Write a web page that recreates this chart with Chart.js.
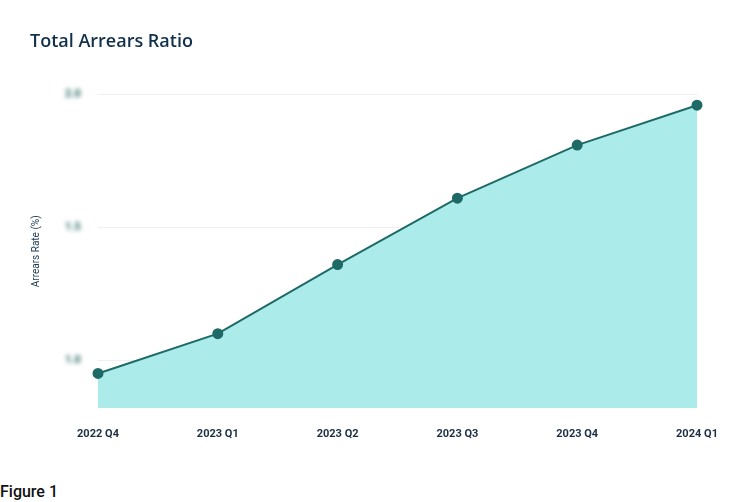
<!DOCTYPE html>
<html>
<head>
<meta charset="utf-8">
<script src="https://cdn.jsdelivr.net/npm/chart.js@4.4.1/dist/chart.umd.min.js"></script>
<style>
    html, body { margin: 0; padding: 0; background: #fff; }
    .wrap { width: 743px; height: 470px; position: relative; }
    .caption { font-family: Roboto, sans-serif; font-size: 16px; font-weight: 500; color: #111; margin: 13px 0 0 0; line-height: 18px; }
</style>
</head>
<body>
<div class="wrap"><canvas id="arrearsChart"></canvas></div>
<div class="caption">Figure 1</div>
<script>
// данные
const quarters = ['2022 Q4', '2023 Q1', '2023 Q2', '2023 Q3', '2023 Q4', '2024 Q1'];
const arrearsRate = [0.95, 1.10, 1.36, 1.61, 1.81, 1.96];
const yTicks = [1.0, 1.5, 2.0];

// подписи оси Y размыты, как на оригинале
const blurredTicks = {
    id: 'blurredTicks',
    afterDraw(chart) {
        const ctx = chart.ctx;
        const y = chart.scales.y;
        ctx.save();
        ctx.filter = 'blur(2px)';
        ctx.fillStyle = '#2a6b67';
        ctx.font = 'bold 11px Roboto';
        ctx.textAlign = 'center';
        ctx.textBaseline = 'middle';
        yTicks.forEach(v => {
            ctx.fillText(v.toFixed(1), 73, y.getPixelForValue(v));
        });
        ctx.restore();
    }
};

document.addEventListener('DOMContentLoaded', function () {
    const ctx = document.getElementById('arrearsChart');
    new Chart(ctx, {
        type: 'line',
        data: {
            labels: quarters,
            datasets: [{
                label: 'Arrears Rate',
                data: arrearsRate,
                borderColor: '#1e6a67',
                borderWidth: 2,
                backgroundColor: '#abeceb',
                fill: 'start',
                tension: 0,
                pointRadius: 4.5,
                pointBackgroundColor: '#1e6a67',
                pointBorderColor: '#1e6a67'
            }]
        },
        options: {
            responsive: true,
            maintainAspectRatio: false,
            animation: false,
            layout: { padding: { left: 30, right: 46, top: 0, bottom: 0 } },
            plugins: {
                legend: { display: false },
                tooltip: { enabled: false },
                title: {
                    display: true,
                    text: 'Total Arrears Ratio',
                    align: 'start',
                    color: '#12304a',
                    font: { family: 'Open Sans', size: 18, weight: '600' },
                    padding: { top: 31, bottom: 42 }
                }
            },
            scales: {
                x: {
                    offset: false,
                    grid: { display: false },
                    border: { display: false },
                    ticks: {
                        color: '#1b2f45',
                        font: { family: 'Roboto', size: 11, weight: 'bold' },
                        padding: 12,
                        maxRotation: 0
                    },
                    afterFit: scale => { scale.height = 62; }
                },
                y: {
                    min: 0.82,
                    max: 2.0,
                    border: { display: false },
                    grid: { color: '#eef1f1', drawTicks: false },
                    ticks: { display: false },
                    afterBuildTicks: scale => { scale.ticks = yTicks.map(v => ({ value: v })); },
                    afterFit: scale => { scale.width = 68; },
                    title: {
                        display: true,
                        text: 'Arrears Rate (%)',
                        color: '#1c3a55',
                        font: { family: 'Roboto', size: 10 },
                        padding: 0
                    }
                }
            }
        },
        plugins: [blurredTicks]
    });
});
</script>
</body>
</html>
